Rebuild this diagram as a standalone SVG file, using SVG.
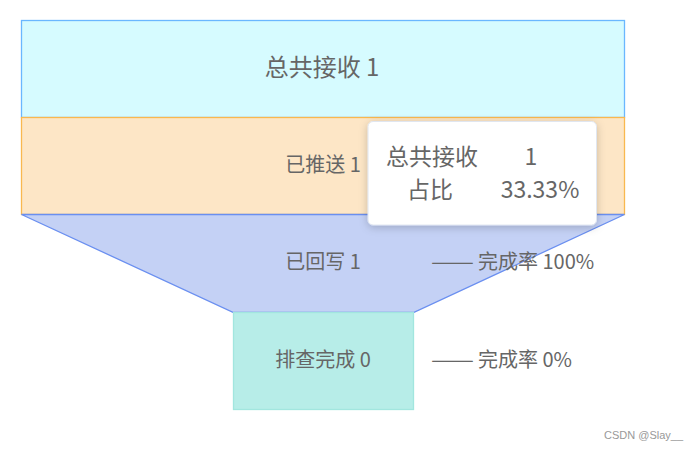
<svg xmlns="http://www.w3.org/2000/svg" width="696" height="450" viewBox="0 0 696 450">
<defs>
<style>
text{font-family:"Microsoft YaHei","Noto Sans CJK SC",sans-serif;fill:#666}
.lbl{font-size:20px;text-anchor:middle}
.rate{font-size:20px}
.tip{font-size:23px}
</style>
<filter id="sh" x="-20%" y="-20%" width="140%" height="150%">
<feDropShadow dx="0" dy="2" stdDeviation="4" flood-color="#000" flood-opacity="0.2"/>
</filter>
</defs>
<rect width="696" height="450" fill="#fff"/>
<g id="connectors"></g>
<g id="node-received">
<rect x="21.5" y="20.5" width="603" height="97" fill="#d6fbff" stroke="#6ab7ff" stroke-width="1.3"/>
<text x="322" y="76" style="font-size:24px;text-anchor:middle">总共接收 1</text>
</g>
<g id="node-pushed">
<rect x="21.5" y="117.5" width="603" height="97" fill="#fde6c6" stroke="#f9b84f" stroke-width="1.3"/>
<text class="lbl" x="323" y="172">已推送 1</text>
</g>
<g id="node-replied">
<polygon points="21.5,214.5 624.5,214.5 413.5,312.5 233.5,312.5" fill="#c4d1f5" stroke="#6a8ff0" stroke-width="1.3"/>
<text class="lbl" x="323" y="269">已回写 1</text>
<text class="rate" x="431" y="269"><tspan textLength="43" lengthAdjust="spacingAndGlyphs">——</tspan><tspan x="478">完成率 100%</tspan></text>
</g>
<g id="node-checked">
<rect x="233.5" y="312.5" width="180" height="97" fill="#b7ede8" stroke="#a2e6df" stroke-width="1.3"/>
<text class="lbl" x="323" y="367">排查完成 0</text>
<text class="rate" x="431" y="367"><tspan textLength="43" lengthAdjust="spacingAndGlyphs">——</tspan><tspan x="478">完成率 0%</tspan></text>
</g>
<g id="tooltip">
<rect x="368" y="121.5" width="228.5" height="103.5" rx="5" fill="#fff" stroke="#e0e6f0" filter="url(#sh)"/>
<text class="tip" x="432" y="165" text-anchor="middle">总共接收</text>
<text class="tip" x="531" y="165" text-anchor="middle">1</text>
<text class="tip" x="430" y="198" text-anchor="middle">占比</text>
<text class="tip" x="540" y="198" text-anchor="middle">33.33%</text>
</g>
<text x="604" y="439" style="font-size:11px;fill:#999;font-family:'Liberation Sans',sans-serif">CSDN @Slay__</text>
</svg>
